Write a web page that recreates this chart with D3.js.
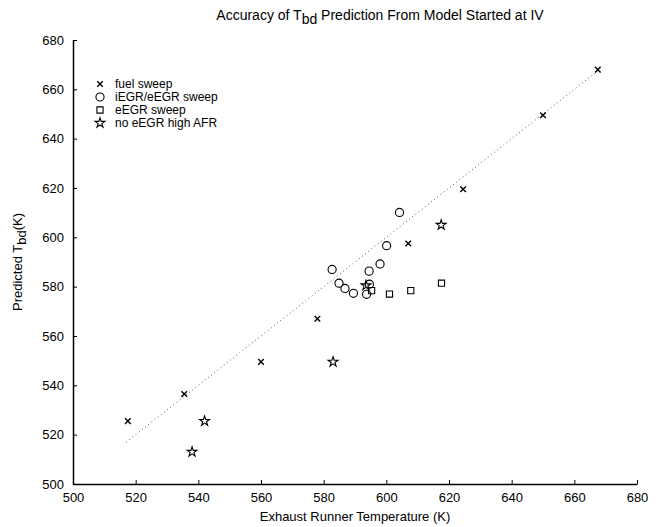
<!DOCTYPE html>
<html>
<head>
<meta charset="utf-8">
<script src="https://cdn.jsdelivr.net/npm/d3@7"></script>
<style>
  body { margin: 0; background: #fff; }
  svg { font-family: "Liberation Sans", Arial, sans-serif; }
  .axis path, .axis line { stroke: #000; }
  .axis text { font-size: 13px; fill: #000; }
</style>
</head>
<body>
<div id="chart"></div>
<script>
// data (x = exhaust runner temp, y = predicted Tbd)
var fuelX = [517.5, 535.5, 560, 578, 607, 624.5, 650, 667.5],
    fuelY = [525.5, 536.5, 549.5, 567, 597.5, 619.5, 649.5, 668];
var egrX = [582.7, 584.9, 586.8, 589.5, 593.7, 594.6, 594.5, 598, 600.1, 604.2],
    egrY = [587, 581.4, 579.3, 577.3, 576.9, 581, 586.3, 589.2, 596.6, 610.1];
var eegrX = [595.3, 601, 607.8, 617.6],
    eegrY = [578.4, 577, 578.4, 581.4];
var afrX = [538, 542, 583, 593.5, 617.5],
    afrY = [513, 525.5, 549.5, 580.5, 605];
var lineX = [517, 668]; // y = x reference line
var xTicks = [500, 520, 540, 560, 580, 600, 620, 640, 660, 680],
    yTicks = [500, 520, 540, 560, 580, 600, 620, 640, 660, 680];
var seriesNames = ["fuel sweep", "iEGR/eEGR sweep", "eEGR sweep", "no eEGR high AFR"],
    seriesShapes = ["cross", "circle", "square", "star"];

var w = 663, h = 527;
var svg = d3.select("#chart").append("svg")
    .attr("width", w)
    .attr("height", h);

var margin = {top: 40, right: 26, bottom: 43, left: 73},
    width = w - margin.left - margin.right,
    height = h - margin.top - margin.bottom;

var x = d3.scaleLinear().domain([500, 680]).range([0, width]),
    y = d3.scaleLinear().domain([500, 680]).range([height, 0]);

var g = svg.append("g")
    .attr("transform", "translate(" + margin.left + "," + margin.top + ")");

// axes, ticks pointing inward
g.append("g")
    .attr("class", "axis axis--x")
    .attr("transform", "translate(0," + height + ")")
    .call(d3.axisBottom(x).tickValues(xTicks).tickSizeInner(-4).tickSizeOuter(0).tickPadding(9))
    .select(".domain").attr("stroke-width", 1.5);
g.append("g")
    .attr("class", "axis axis--y")
    .call(d3.axisLeft(y).tickValues(yTicks).tickSizeInner(-4).tickSizeOuter(0).tickPadding(9))
    .select(".domain").attr("stroke-width", 1.5);

// dotted y = x line
g.append("path")
    .datum(lineX)
    .attr("fill", "none")
    .attr("stroke", "#555")
    .attr("stroke-width", 1)
    .attr("stroke-dasharray", "1,3")
    .attr("d", d3.line().x(function(d) { return x(d); }).y(function(d) { return y(d); }));

var sym = {
  cross: d3.symbol().type(d3.symbolX).size(22),
  circle: d3.symbol().type(d3.symbolCircle).size(52),
  square: d3.symbol().type(d3.symbolSquare).size(38),
  star: d3.symbol().type(d3.symbolStar).size(30)
};

function drawSeries(xs, ys, shape) {
  g.selectAll(".pt-" + shape)
    .data(xs)
    .enter().append("path")
      .attr("class", "pt-" + shape)
      .attr("transform", function(d, i) { return "translate(" + x(d) + "," + y(ys[i]) + ")"; })
      .attr("d", sym[shape]())
      .attr("fill", "none")
      .attr("stroke", "#000")
      .attr("stroke-width", shape == "cross" ? 1.4 : 1.1);
}
drawSeries(egrX, egrY, "circle");
drawSeries(eegrX, eegrY, "square");
drawSeries(afrX, afrY, "star");
drawSeries(fuelX, fuelY, "cross");

// legend
var legend = svg.append("g")
    .attr("class", "legend")
    .attr("transform", "translate(100,84)");
legend.selectAll("path")
    .data(seriesShapes)
    .enter().append("path")
      .attr("transform", function(d, i) { return "translate(0," + i * 13 + ")"; })
      .attr("d", function(d) { return sym[d](); })
      .attr("fill", "none")
      .attr("stroke", "#000")
      .attr("stroke-width", function(d) { return d == "cross" ? 1.4 : 1.1; });
legend.selectAll("text")
    .data(seriesNames)
    .enter().append("text")
      .attr("x", 15)
      .attr("y", function(d, i) { return i * 13 + 4; })
      .style("font-size", "12px")
      .text(function(d) { return d; });

// title
var title = svg.append("text")
    .attr("x", 380)
    .attr("y", 20)
    .attr("text-anchor", "middle")
    .style("font-size", "14px");
title.append("tspan").text("Accuracy of T");
title.append("tspan").attr("dy", 4).text("bd");
title.append("tspan").attr("dy", -4).text("  Prediction From Model Started at IV");

// axis labels
svg.append("text")
    .attr("x", margin.left + width / 2)
    .attr("y", 521)
    .attr("text-anchor", "middle")
    .style("font-size", "13px")
    .text("Exhaust Runner Temperature (K)");

var ylab = svg.append("text")
    .attr("transform", "translate(22," + (margin.top + height / 2) + ") rotate(-90)")
    .attr("text-anchor", "middle")
    .style("font-size", "13px");
ylab.append("tspan").text("Predicted T");
ylab.append("tspan").attr("dy", 4).text("bd");
ylab.append("tspan").attr("dy", -4).text("(K)");
</script>
</body>
</html>
